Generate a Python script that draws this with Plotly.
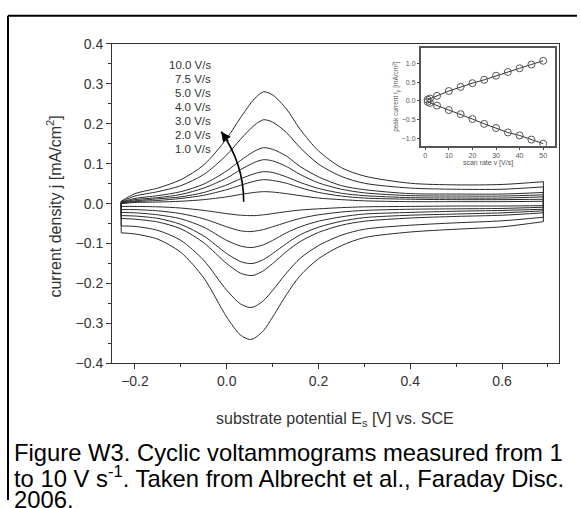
import plotly.graph_objects as go

# potential grids (V vs SCE) for the forward (anodic) and reverse (cathodic) sweeps
E_fwd = [-0.23, -0.2, -0.15, -0.1, -0.05, 0.0, 0.03, 0.06, 0.08, 0.10, 0.13, 0.16,
         0.2, 0.25, 0.3, 0.4, 0.5, 0.6, 0.69]
E_rev = [0.69, 0.6, 0.5, 0.4, 0.3, 0.25, 0.2, 0.16, 0.13, 0.10, 0.08, 0.06, 0.05,
         0.03, 0.0, -0.05, -0.1, -0.15, -0.2, -0.23]

scan_labels = ["10.0 V/s", "7.5 V/s", "5.0 V/s", "4.0 V/s", "3.0 V/s", "2.0 V/s", "1.0 V/s"]

# current density j (mA/cm2), anodic branch, one list per scan rate
j_fwd_10 = [0.006, 0.025, 0.039, 0.060, 0.097, 0.163, 0.215, 0.262, 0.280, 0.272, 0.237, 0.186, 0.132, 0.090, 0.069, 0.051, 0.047, 0.048, 0.055]
j_fwd_75 = [0.005, 0.019, 0.030, 0.045, 0.073, 0.122, 0.161, 0.196, 0.210, 0.204, 0.178, 0.140, 0.099, 0.068, 0.051, 0.039, 0.036, 0.036, 0.042]
j_fwd_5 = [0.004, 0.013, 0.020, 0.030, 0.049, 0.082, 0.108, 0.131, 0.140, 0.136, 0.119, 0.093, 0.067, 0.045, 0.035, 0.025, 0.024, 0.024, 0.028]
j_fwd_4 = [0.003, 0.010, 0.015, 0.023, 0.039, 0.064, 0.085, 0.103, 0.110, 0.107, 0.093, 0.073, 0.052, 0.036, 0.027, 0.020, 0.019, 0.019, 0.022]
j_fwd_3 = [0.002, 0.007, 0.012, 0.017, 0.028, 0.047, 0.062, 0.075, 0.080, 0.078, 0.067, 0.053, 0.038, 0.026, 0.020, 0.015, 0.014, 0.014, 0.017]
j_fwd_2 = [0.001, 0.005, 0.008, 0.013, 0.021, 0.035, 0.046, 0.056, 0.060, 0.058, 0.051, 0.040, 0.028, 0.019, 0.014, 0.011, 0.010, 0.010, 0.011]
j_fwd_1 = [0.000, 0.003, 0.004, 0.006, 0.010, 0.017, 0.023, 0.028, 0.030, 0.029, 0.025, 0.020, 0.014, 0.010, 0.007, 0.005, 0.005, 0.005, 0.006]

# cathodic branch
j_rev_10 = [-0.045, -0.058, -0.064, -0.071, -0.085, -0.105, -0.138, -0.180, -0.228, -0.284, -0.318, -0.337, -0.340, -0.329, -0.284, -0.186, -0.122, -0.089, -0.076, -0.073]
j_rev_75 = [-0.034, -0.043, -0.048, -0.054, -0.064, -0.079, -0.105, -0.137, -0.174, -0.217, -0.243, -0.258, -0.260, -0.251, -0.217, -0.142, -0.092, -0.067, -0.057, -0.056]
j_rev_5 = [-0.023, -0.029, -0.032, -0.036, -0.044, -0.054, -0.072, -0.095, -0.120, -0.150, -0.168, -0.179, -0.180, -0.174, -0.150, -0.098, -0.063, -0.046, -0.039, -0.037]
j_rev_4 = [-0.018, -0.023, -0.026, -0.029, -0.035, -0.044, -0.059, -0.078, -0.100, -0.125, -0.140, -0.149, -0.150, -0.145, -0.125, -0.081, -0.052, -0.037, -0.031, -0.030]
j_rev_3 = [-0.014, -0.017, -0.019, -0.022, -0.026, -0.033, -0.044, -0.058, -0.073, -0.092, -0.103, -0.109, -0.110, -0.106, -0.092, -0.059, -0.038, -0.028, -0.023, -0.022]
j_rev_2 = [-0.009, -0.012, -0.013, -0.014, -0.017, -0.021, -0.028, -0.037, -0.047, -0.058, -0.065, -0.069, -0.070, -0.068, -0.058, -0.038, -0.025, -0.018, -0.015, -0.015]
j_rev_1 = [-0.005, -0.006, -0.006, -0.007, -0.008, -0.010, -0.013, -0.016, -0.020, -0.025, -0.028, -0.030, -0.030, -0.029, -0.025, -0.017, -0.011, -0.008, -0.007, -0.007]

# inset: peak current vs scan rate
v_inset = [1, 2, 5, 10, 15, 20, 25, 30, 35, 40, 45, 50]
ip_anodic = [0.03, 0.06, 0.13, 0.26, 0.37, 0.47, 0.56, 0.67, 0.77, 0.87, 0.97, 1.07]
ip_cathodic = [-0.03, -0.06, -0.13, -0.25, -0.36, -0.49, -0.62, -0.73, -0.85, -0.93, -1.04, -1.15]

fwd_all = [j_fwd_10, j_fwd_75, j_fwd_5, j_fwd_4, j_fwd_3, j_fwd_2, j_fwd_1]
rev_all = [j_rev_10, j_rev_75, j_rev_5, j_rev_4, j_rev_3, j_rev_2, j_rev_1]

FONT = "Arial, Liberation Sans, sans-serif"
W, H = 581, 508
curve_col = "#2a2a2a"

fig = go.Figure()

conn_x, conn_y = [], []
for jf, jr in zip(fwd_all, rev_all):
    fig.add_trace(go.Scatter(x=E_fwd, y=jf, mode="lines", line=dict(color=curve_col, width=1, shape="spline", smoothing=0.8),
                             showlegend=False, hoverinfo="skip"))
    fig.add_trace(go.Scatter(x=E_rev, y=jr, mode="lines", line=dict(color=curve_col, width=1, shape="spline", smoothing=0.8),
                             showlegend=False, hoverinfo="skip"))
    # switching-potential connectors
    conn_x += [E_fwd[-1], E_rev[0], None, E_rev[-1], E_fwd[0], None]
    conn_y += [jf[-1], jr[0], None, jr[-1], jf[0], None]

fig.add_trace(go.Scatter(x=conn_x, y=conn_y, mode="lines", line=dict(color=curve_col, width=1),
                         showlegend=False, hoverinfo="skip"))

# inset traces
for ip in (ip_anodic, ip_cathodic):
    fig.add_trace(go.Scatter(x=v_inset, y=ip, xaxis="x2", yaxis="y2", mode="lines+markers",
                             line=dict(color="#333", width=1),
                             marker=dict(symbol="circle-open", size=7, color="#555", line=dict(width=1)),
                             showlegend=False, hoverinfo="skip"))


def px(x):
    return x / W


def py(y):
    return 1 - y / H


fig.update_layout(
    width=W, height=H,
    margin=dict(l=0, r=0, t=0, b=0),
    paper_bgcolor="white", plot_bgcolor="white",
    font=dict(family=FONT, color="#333"),
    xaxis=dict(domain=[px(112), px(559)], range=[-0.25, 0.724], showgrid=False, zeroline=False,
               showline=True, mirror=True, linecolor="#333", linewidth=1,
               ticks="outside", ticklen=5, tickcolor="#333", dtick=0.2, tick0=0, tickformat=".1f",
               minor=dict(ticks="outside", ticklen=3, dtick=0.1, tickcolor="#333"),
               tickfont=dict(size=14, color="#333")),
    yaxis=dict(domain=[py(367), py(37)], range=[-0.4, 0.4], showgrid=False, zeroline=False,
               showline=True, mirror=True, linecolor="#333", linewidth=1,
               ticks="outside", ticklen=5, tickcolor="#333", dtick=0.1, tick0=0, tickformat=".1f",
               minor=dict(ticks="outside", ticklen=3, dtick=0.05, tickcolor="#333"),
               tickfont=dict(size=14, color="#333")),
    xaxis2=dict(domain=[px(421), px(555)], range=[-1.8, 55], anchor="y2", showgrid=False, zeroline=False,
                showline=True, mirror=True, linecolor="#555", linewidth=2,
                ticks="outside", ticklen=2, dtick=10, tickfont=dict(size=7, color="#555"),
                title=dict(text="scan rate v [V/s]", font=dict(size=7, color="#555"), standoff=2)),
    yaxis2=dict(domain=[py(142), py(41)], range=[-1.2, 1.42], anchor="x2", showgrid=False, zeroline=False,
                showline=True, mirror=True, linecolor="#555", linewidth=2,
                ticks="outside", ticklen=2, dtick=0.5, tickformat=".1f", tickfont=dict(size=7, color="#555"),
                title=dict(text="peak current I<sub>p</sub> [mA/cm<sup>2</sup>]", font=dict(size=6.5, color="#555"), standoff=2)),
)

annotations = [
    dict(text="current density j [mA/cm<sup>2</sup>]", x=px(54), y=py(205), xref="paper", yref="paper",
         textangle=-90, showarrow=False, font=dict(size=16, color="#333"), xanchor="center", yanchor="middle"),
    dict(text="substrate potential E<sub>s</sub> [V] vs. SCE", x=px(335), y=py(425), xref="paper", yref="paper",
         showarrow=False, font=dict(size=16, color="#333"), xanchor="center", yanchor="middle"),
]

label_y = [59, 73.5, 88, 102.5, 117, 131.5, 146]
for lab, ly in zip(scan_labels, label_y):
    annotations.append(dict(text=lab, x=px(213), y=py(ly), xref="paper", yref="paper", showarrow=False,
                            xanchor="right", yanchor="middle", font=dict(size=11.5, color="#333")))

# arrowhead of the curved "increasing scan rate" arrow
annotations.append(dict(x=-0.012, y=0.18, ax=8, ay=11, xref="x", yref="y",
                        showarrow=True, arrowhead=2, arrowsize=1.2, arrowwidth=1.6, arrowcolor="black", text=""))

caption = ["Figure W3. Cyclic voltammograms measured from 1",
           "to 10 V s<sup>-1</sup>. Taken from Albrecht et al., Faraday Disc.",
           "2006."]
for line, ly in zip(caption, [459, 484, 507]):
    annotations.append(dict(text=line, x=px(12), y=py(ly), xref="paper", yref="paper", showarrow=False,
                            xanchor="left", yanchor="middle", font=dict(size=23.8, color="black")))

fig.update_layout(annotations=annotations)

# curved arrow shaft
fig.add_shape(type="path", xref="x", yref="y", path="M 0.037,0.005 Q 0.037,0.10 -0.012,0.18",
              line=dict(color="black", width=1.6))

# page frame (left and top rules)
fig.add_shape(type="line", xref="paper", yref="paper", x0=px(8), x1=px(8), y0=0, y1=py(8),
              line=dict(color="black", width=2))
fig.add_shape(type="line", xref="paper", yref="paper", x0=px(8), x1=px(577), y0=py(8), y1=py(8),
              line=dict(color="black", width=2))

fig.write_html("out.html", config={"displayModeBar": False},
               post_script="document.body.style.margin='0';document.body.style.overflow='hidden';")
